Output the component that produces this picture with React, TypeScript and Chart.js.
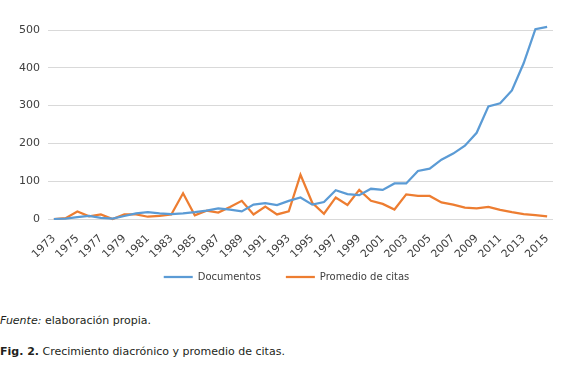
import React, { useEffect, useRef } from "react";
import { Chart, registerables } from "chart.js";

Chart.register(...registerables);

const years: string[] = [];
for (let y = 1973; y <= 2015; y++) years.push(String(y));

const documentos = [
  0, 1, 5, 8, 3, 1, 8, 15, 18, 15, 13, 15, 18, 22, 28, 25, 20, 38, 42, 37, 48, 57,
  38, 45, 76, 66, 63, 80, 77, 94, 94, 127, 133, 157, 173, 194, 228, 298, 306, 340,
  412, 502, 508,
];

const promedioCitas = [
  0, 2, 20, 7, 12, 0, 12, 12, 6, 8, 12, 68, 10, 22, 17, 32, 48, 12, 33, 12, 20, 117,
  43, 14, 57, 37, 77, 48, 40, 25, 65, 61, 61, 44, 38, 30, 28, 32, 24, 18, 13, 10, 7,
];

const yTicks = [0, 100, 200, 300, 400, 500];

const FONT = "'DejaVu Sans', Verdana, sans-serif";

const legendPlace = {
  id: "legendPlace",
  afterLayout(chart: any) {
    const l = chart.legend;
    if (l) {
      const top = 247;
      l.bottom = top + l.height;
      l.top = top;
      l.left += 10;
      l.right += 10;
    }
  },
};

export default function App() {
  const ref = useRef<HTMLCanvasElement | null>(null);

  useEffect(() => {
    if (!ref.current) return;
    const chart = new Chart(ref.current, {
      type: "line",
      data: {
        labels: years,
        datasets: [
          {
            label: "Documentos",
            data: documentos,
            borderColor: "#5B9BD5",
            backgroundColor: "#5B9BD5",
            borderWidth: 2.25,
            pointRadius: 0,
            tension: 0,
            clip: false as any,
          },
          {
            label: "Promedio de citas",
            data: promedioCitas,
            borderColor: "#ED7D31",
            backgroundColor: "#ED7D31",
            borderWidth: 2.25,
            pointRadius: 0,
            tension: 0,
            clip: false as any,
          },
        ],
      },
      plugins: [legendPlace],
      options: {
        animation: false,
        responsive: false,
        maintainAspectRatio: false,
        layout: { padding: { left: 0, right: 27, top: 30, bottom: 4 } },
        plugins: {
          tooltip: { enabled: false },
          legend: {
            position: "bottom",
            labels: {
              usePointStyle: true,
              pointStyle: "line",
              pointStyleWidth: 29,
              boxHeight: 10,
              padding: 25,
              color: "#404040",
              font: { family: FONT, size: 10 },
            },
          },
        },
        scales: {
          x: {
            offset: true,
            grid: { display: false },
            border: { display: false },
            afterFit: (axis: any) => {
              axis.height = 38;
            },
            ticks: {
              autoSkip: false,
              maxRotation: 45,
              minRotation: 45,
              color: "#404040",
              font: { family: FONT, size: 11 },
              padding: 5,
              callback: (_v: any, i: number) => (i % 2 === 0 ? years[i] : ""),
            },
          },
          y: {
            min: 0,
            max: 500,
            afterBuildTicks: (axis: any) => {
              axis.ticks = yTicks.map((v) => ({ value: v }));
            },
            afterFit: (axis: any) => {
              axis.width = 48;
            },
            grid: { color: "#d9d9d9", lineWidth: 1, drawTicks: false },
            border: { display: false },
            ticks: {
              color: "#404040",
              font: { family: FONT, size: 11 },
              padding: 8,
            },
          },
        },
      },
    });
    return () => chart.destroy();
  }, []);

  return (
    <div style={{ position: "fixed", left: 0, top: 0, width: 580, height: 386, background: "#fff" }}>
      <canvas ref={ref} width={580} height={306} style={{ display: "block", width: 580, height: 306 }} />
      <div
        style={{
          position: "absolute",
          left: 0,
          top: 314,
          fontFamily: FONT,
          fontSize: 11,
          color: "#231f20",
          whiteSpace: "nowrap",
        }}
      >
        <i>Fuente:</i> elaboración propia.
      </div>
      <div
        style={{
          position: "absolute",
          left: 0,
          top: 345,
          fontFamily: FONT,
          fontSize: 11,
          color: "#231f20",
          whiteSpace: "nowrap",
        }}
      >
        <b>Fig. 2.</b> Crecimiento diacrónico y promedio de citas.
      </div>
    </div>
  );
}
